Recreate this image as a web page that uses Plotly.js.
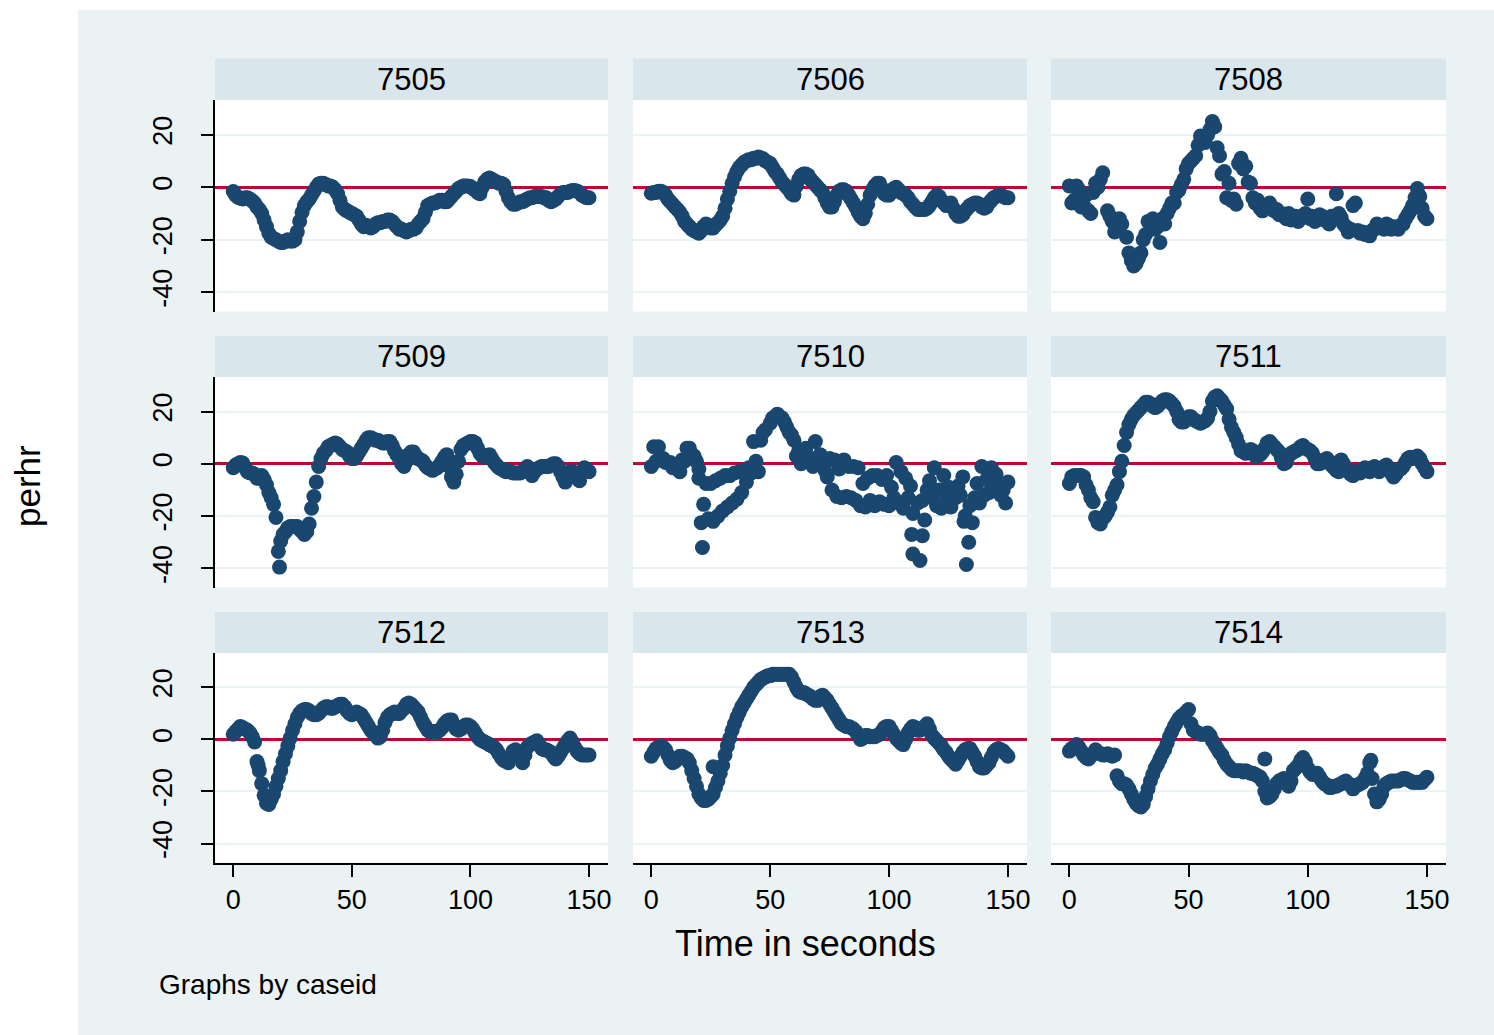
<!DOCTYPE html>
<html><head><meta charset="utf-8">
<script src="https://cdn.plot.ly/plotly-3.0.1.min.js"></script>
<style>html,body{margin:0;padding:0;background:#fff;}#chart{width:1494px;height:1035px;}</style>
</head><body><div id="chart"></div>
<script>
// ---------------- DATA ----------------
const caseIds = ['7505','7506','7508','7509','7510','7511','7512','7513','7514'];
const xTickVals = [0, 50, 100, 150];
const yTickVals = [-40, -20, 0, 20];
const evenSeconds = [0,2,4,6,8,10,12,14,16,18,20,22,24,26,28,30,32,34,36,38,40,42,44,46,48,50,52,54,56,58,60,62,64,66,68,70,72,74,76,78,80,82,84,86,88,90,92,94,96,98,100,102,104,106,108,110,112,114,116,118,120,122,124,126,128,130,132,134,136,138,140,142,144,146,148,150];
const oddSeconds = [1,3,5,7,9,11,13,15,17,19,21,23,25,27,29,31,33,35,37,39,41,43,45,47,49,51,53,55,57,59,61,63,65,67,69,71,73,75,77,79,81,83,85,87,89,91,93,95,97,99,101,103,105,107,109,111,113,115,117,119,121,123,125,127,129,131,133,135,137,139,141,143,145,147,149];

// perhr at even seconds
const perhr7505 = [-1.6,-3.8,-4.5,-4,-5.2,-7.5,-10,-15,-19,-20,
  -21,-20.5,-20.5,-20,-13,-7,-4.5,-1.5,1.2,1.5,
  0.5,0,-2.5,-7.5,-9,-10,-11,-14,-14.5,-15.5,
  -14,-13.5,-13,-12.5,-14,-16,-16.5,-16.5,-16,-14,
  -12,-7,-6,-5.5,-5,-5.5,-3.5,-1.5,0,0.5,
  0.3,-1,-2.5,2,3.5,2.5,1.5,1,-4,-6.5,
  -6,-5.5,-4.5,-4,-3.5,-3.5,-4,-5.5,-4.5,-2.5,
  -2,-1.5,-1.2,-2,-3.5,-4];
// perhr at odd seconds
const perhrOdd7505 = [-3,-4.2,-4,-4.5,-6,-8.5,-12.5,-17.5,-19.5,-20.5,
  -21,-20,-20.5,-17,-9.5,-5.5,-3,0,1.5,1,
  0.5,-1,-5,-8.5,-9.5,-10.5,-12.5,-15,-15,-15,
  -13.5,-13,-12.5,-13,-15,-16,-17,-16,-15.5,-13,
  -9.5,-6.5,-6,-5,-5.5,-4.5,-2.5,-0.5,0.5,0.5,
  -0.5,-2,0,3,3,2,1.5,-1.5,-5.5,-6.5,
  -5.5,-5,-4,-3.5,-3.5,-4,-5,-5,-3.5,-2,
  -2,-1.2,-1.5,-3,-4];

const perhr7506 = [-2.3,-2,-1.5,-3,-5.5,-7.5,-9.5,-13,-15,-16.5,
  -17.5,-15,-14.5,-15.5,-13.5,-11,-4.5,1.5,6,8.5,
  10,10.5,11,11.2,10,9,6,3.5,1,-1,
  -3,3,5,4.5,2,0,-2,-6,-7.5,-3,
  -1,-1.5,-4.5,-7.5,-11,-10,-3,0.5,1.5,-2.5,
  -3,-0.5,-1,-2.5,-4,-6.5,-8.5,-8.5,-8,-5.5,
  -3,-5,-7,-6,-10,-11,-9,-7,-6,-6.5,
  -8,-6,-4,-3,-3.5,-4];
const perhrOdd7506 = [-2,-1.5,-2,-4.5,-6.5,-8.5,-11,-14,-16,-17,
  -16.5,-14,-15.5,-14.5,-12.5,-8,-1.5,4,7.5,9.5,
  10.5,11,11.5,10.8,9.5,7.5,5,2,0,-2.5,
  0.5,4.5,5,3,1,-1,-4,-7.5,-5.5,-1.5,
  -1,-3,-6,-9.5,-12,-6.5,-1,1.5,-0.5,-3,
  -2,0,-2,-3,-5.5,-7.5,-8.5,-8.5,-7,-4,
  -3.5,-6,-6.5,-8,-11,-10.5,-8,-6.5,-6,-7.5,
  -7.5,-5,-3.5,-3,-4];

const perhr7508 = [0.5,-5,-1,-7,-9,-2,0,5.5,-9,-13,
  -15,-14,-19,-28,-29,-25,-18,-14,-16,-21,
  -14,-8,-6,-1,3,9,11,16,18,20,
  25,15,5,-4,-5,-6.5,11,8,1.5,-6,
  -8,-7,-6,-9,-10.5,-11,-10,-12,-13,-11,
  -4.5,-11,-12.5,-11,-13,-11,-2.5,-11.5,-15,-16,
  -6,-17.5,-18,-18.5,-16,-15,-16,-14.5,-15,-16,
  -14,-10.5,-7,-0.5,-8,-12];
const extraSec7508 = [1,3,5,7,9,11,13,17,19,21,25,27,29,31,33,35,37,39,41,43,45,47,49,51,53,55,57,59,61,63,65,67,69,71,73,75,77,79,81,83,85,87,89,91,93,95,97,99,101,103,105,107,109,111,113,115,117,119,121,123,125,127,129,131,133,135,137,139,141,143,145,147,149];
const extraPerhr7508 = [-6,0.5,-7.5,-3,-10,1.5,3,-11,-17,-12,
  -25,-30,-27,-20,-13,-12,-15,-12,-10,-6,
  -2,1,7,10,12,19.5,17,22,23,12,
  6,1.5,-4.5,9,7,2,-4,-5,-9,-8,
  -7.5,-8.5,-10,-12,-12.5,-11,-12,-10,-12,-13,
  -10.5,-12,-14,-12,-10,-14,-17,-7,-16.5,-17,
  -17.5,-16.5,-14,-15.5,-14,-16,-15.5,-14.5,-12,-9,
  -4,-3.5,-11];

const perhr7509 = [-1.5,0,0.3,-3,-3.5,-5.5,-4.5,-8,-13,-20.5,
  -29.5,-26,-24,-24,-25,-27,-23,-12.5,-1,4,
  6.5,7.5,7.5,5.5,4.5,2,3,6,9,10,
  9,8.5,8,8.5,5,2,-1,3.5,4.5,2,
  1,-1.5,-2.5,-1.5,1,3.5,-5,-4,5.5,7.5,
  8.5,8,4,2.5,3.5,0.5,-1.5,-2.5,-3,-3.5,
  -3.5,-3,-1,-4.5,-2,-1,-1,-0.5,0,-3,
  -7,-3,-4,-6.5,-1.5,-3];
const perhrOdd7509 = [-0.5,0.5,-1.5,-3.5,-4,-5.5,-6,-11,-15.5,-33.5,
  -27,-24.5,-24,-24,-26,-26,-17,-7,2,5,
  7,8,6.5,5,3,2,4.5,7.5,10,9.5,
  9,8,8.5,7,3.5,0,1,4.5,3,1.5,
  -0.5,-2,-2,-0.5,2.5,-1,-7,1,7,8,
  8.5,6,3,3,2,-0.5,-2,-3,-3,-3.5,
  -3.5,-2,-2.5,-3,-1.5,-1,-1,0,-1,-5,
  -5,-3,-5.5,-3.5,-2];
const extraSec7509 = [19.5];
const extraPerhr7509 = [-39.5];

const perhr7510 = [-1,1,1.5,0.5,0.5,-1,-3,1,6,3,
  -2,-15.5,-21,-22,-20,-18,-16.5,-15,-13.5,-11,
  -7,-3.5,1,9,13,15.5,18,18,16,12,
  9,5,3,1,-1,0,1.5,-5,-10,-12.5,
  -13,-12.5,-13,-14,-16,-16.5,-14,-16,-14.5,-15.5,
  -16,-13,-15,-17,-13,-19,-15,-14,-10,-13,
  -16,-17,-14,-16.5,-13,-12,-20,-16,-13,-15,
  -12,-11,-9,-8.5,-10,-7];
const extraSec7510 = [1,3,5,9,13,15,17,19,20,21,21.5,23,25,27,29,31,33,35,37,39,41,43,45,47,51,53,55,57,59,61,63,65,67,69,71,73,75,77,79,81,83,85,87,89,91,93,95,97,99,101,103,105,107,109,109.5,110,113,114,115,117,119,121,123,125,127,129,131,131.5,132.5,133.5,135,137,139,141,143,145,147,149];
const extraPerhr7510 = [6.5,6.5,2,-1.5,1.5,6,3.5,1,-5.5,-22.5,
  -32,-7.5,-7.5,-6.5,-5.5,-4.5,-4.5,-3.5,-3,-2.5,
  -1.5,8.5,-3,12,17.5,19,17.5,14,11,3,
  0,6,2,8.5,3.5,-2.5,2,1.5,-2,1.5,
  -1,-1,-1.5,-7.5,-5.5,-4.5,-4.5,-6,-4.5,-9,
  0.5,-3,-5.5,-8.5,-27,-34.5,-37,-27.5,-21.5,-6.5,
  -1.5,-10,-4.5,-9,-11,-8.5,-5,-22,-38.5,-30,
  -22.5,-7.5,-1,-6,-1.5,-4,-12,-15];

const perhr7511 = [-7.5,-4.5,-4.5,-5,-10,-14.5,-22.5,-21,-18.5,-12,
  -8,1,12,17,19.5,21.5,23.5,23,21.5,23,
  24.5,24,22,17,16,18,17,16,16,17.5,
  24,26,24,21,14,10,5,4,5.5,3,
  3.5,6,8.5,6.5,4.5,0,3,4.5,5.5,7,
  5.5,4,0,0.5,2,-0.5,-2.5,1.5,-2,-4,
  -3,-3.5,-1.5,-3,-1,-3,-1,-1.5,-5,-2.5,
  -1,2,2,3,0,-3];
const perhrOdd7511 = [-5,-4.5,-4.5,-8,-13,-20.5,-23,-20,-16.5,-10,
  -3,7,15,18.5,20.5,22.5,23.5,22,22,24,
  24.5,23,20,16,17,18,16.5,15.5,16.5,20,
  25.5,25,22.5,17,12,7.5,4.5,5,5,3,
  4.5,8,7.5,5.5,2,0.5,4,5,6.5,6,
  5,2,0,1.5,1,-1.5,-3,0,-3,-4.5,
  -3,-2.5,-2,-1.5,-2,-2,-0.5,-3.5,-4,-2,
  0.5,2.5,2.5,2,-1.5];

const perhr7512 = [2,4,4.5,3.5,1,-8.5,-17,-24.5,-23,-18,
  -12,-5.5,0.5,6,10,11.5,11,9.5,10,12,
  12.5,12,13,13.5,11,9.5,10.5,9.5,6.5,3.5,
  1.5,1,6.5,9.5,10.5,10,12,14,12.5,10.5,
  6.5,3.5,3,3,4.5,7,7.5,4,4,5.5,
  5,2.5,0,-1,-2,-3,-5.5,-8,-9,-4.5,
  -5,-9,-3,-1.5,-0.5,-3.5,-4,-5,-7.5,-5,
  -2,0.5,-3,-5.5,-6,-6];
const perhrOdd7512 = [3,5,4,2.5,-1,-12,-21.5,-25,-21,-15,
  -8.5,-2.5,3.5,8.5,11,11.5,10,9.5,11,12.5,
  12,12.5,13.5,12.5,10,10,10,8,5,2.5,
  0.5,3.5,8.5,10,10,11,13.5,13.5,11.5,8.5,
  5,3,3,3.5,6,7.5,5.5,3.5,5,5.5,
  4,1,-0.5,-1.5,-2.5,-4,-7,-8.5,-7,-4,
  -7,-6,-2,-1,-2,-4,-4.5,-6.5,-6.5,-3.5,
  -0.5,-1,-4.5,-6,-6];
const extraSec7512 = [10.5];
const extraPerhr7512 = [-10];

const perhr7513 = [-6.5,-3.5,-2.5,-4,-8,-8.5,-6.5,-7,-9,-15,
  -21,-23.5,-23,-21,-16,-10,-2.5,3.5,8.5,12.5,
  15.5,18.5,21,23,24,24.5,25,25,25,25,
  22,18.5,18,17,15.5,15,17,15,12,9,
  6,5,4.5,3,0,1.5,1,1,2,4.5,
  5,2,-0.5,-2,2.5,5,3.5,4,6,1.5,
  -0.5,-2.5,-5,-7.5,-9.5,-6.5,-4,-3.5,-6.5,-10.5,
  -11,-9,-5,-3.5,-4.5,-6.5];
const perhrOdd7513 = [-5,-3,-3,-6,-9,-7.5,-6.5,-7.5,-12,-18,
  -22.5,-23.5,-22,-18.5,-13,-6,0.5,6,10.5,14,
  17,20,22,23.5,24.5,25,25,25,25,24,
  20,18,17.5,16.5,15,16.5,16,13.5,10.5,7.5,
  5.5,5,4,1.5,0.5,1.5,1,1.5,3,5,
  3.5,0.5,-1.5,0,4,4.5,3.5,5,4,0.5,
  -1.5,-4,-6.5,-8.5,-8,-5,-3.5,-5,-8.5,-11,
  -10,-7,-4,-4,-5.5];
const extraSec7513 = [26];
const extraPerhr7513 = [-10.5];

const perhr7514 = [-4.5,-3,-3,-6,-7.5,-5.5,-5,-6,-5.5,-6.5,
  -14,-17,-17.5,-21,-24.5,-26,-22,-16,-11,-7.5,
  -4,1,5,8,9.5,11.5,3.5,2.5,2,2.5,
  -0.5,-3.5,-6,-9.5,-11.5,-12,-12,-12,-13,-13.5,
  -14.5,-20,-22,-19,-16,-15,-18,-12,-10,-7,
  -11,-13.5,-13,-16,-17.5,-18.5,-18,-17,-16,-17.5,
  -18,-17,-15,-9,-21,-23,-18,-16.5,-16,-16,
  -15,-15.5,-16.5,-16.5,-16.5,-14.5];
const perhrOdd7514 = [-3.5,-2,-4.5,-7,-6.5,-4,-5.5,-6,-6,-6,
  -16,-17,-19,-23,-25.5,-25,-19,-13.5,-9.5,-5.5,
  -1.5,3,6.5,9,10.5,6,3,2,2,1.5,
  -2,-5,-8,-10.5,-12,-12,-12.5,-12.5,-13,-14,
  -16,-22.5,-21,-17,-15.5,-17,-16,-11,-8,-8.5,
  -12.5,-13,-14.5,-17,-18.5,-18,-17.5,-16.5,-17,-19,
  -17.5,-16.5,-13,-15,-24,-21,-17,-16,-16,-15.5,
  -15,-16,-16.5,-16.5,-15.5];
const extraSec7514 = [82,126.5];
const extraPerhr7514 = [-7.5,-8];

// ---------------- BUILD ----------------
const panels = [
  {y: perhr7505, yo: perhrOdd7505},
  {y: perhr7506, yo: perhrOdd7506},
  {y: perhr7508, ex: extraSec7508, ey: extraPerhr7508},
  {y: perhr7509, yo: perhrOdd7509, ex: extraSec7509, ey: extraPerhr7509},
  {y: perhr7510, ex: extraSec7510, ey: extraPerhr7510},
  {y: perhr7511, yo: perhrOdd7511},
  {y: perhr7512, yo: perhrOdd7512, ex: extraSec7512, ey: extraPerhr7512},
  {y: perhr7513, yo: perhrOdd7513, ex: extraSec7513, ey: extraPerhr7513},
  {y: perhr7514, yo: perhrOdd7514, ex: extraSec7514, ey: extraPerhr7514}
];

const W = 1494, H = 1035;
const FONT = 'Liberation Sans, Arial, Helvetica, sans-serif';
const NAVY = '#1A476F';
const colPx = [[215, 608], [633, 1027], [1051, 1446]];
const rowPx = [[100, 311.5], [377, 587.5], [653, 862.5]];
const headPx = [[58.5, 100], [336, 377], [612, 653]];

const traces = [];
const layout = {
  width: W, height: H,
  margin: {l: 0, r: 0, t: 0, b: 0, pad: 0},
  paper_bgcolor: '#EAF2F3',
  plot_bgcolor: '#FFFFFF',
  showlegend: false,
  font: {family: FONT, color: '#000'},
  shapes: [
    {type: 'rect', xref: 'paper', yref: 'paper', x0: 0, x1: 78 / W, y0: 0, y1: 1, fillcolor: '#FFFFFF', line: {width: 0}, layer: 'below'},
    {type: 'rect', xref: 'paper', yref: 'paper', x0: 0, x1: 1, y0: 1 - 10 / H, y1: 1, fillcolor: '#FFFFFF', line: {width: 0}, layer: 'below'}
  ],
  annotations: []
};

panels.forEach((p, i) => {
  const r = Math.floor(i / 3), c = i % 3;
  const n = i === 0 ? '' : String(i + 1);
  const xa = 'x' + n, ya = 'y' + n;
  const mk = {size: 15, color: NAVY, line: {width: 0}};
  traces.push({type: 'scatter', mode: 'markers', x: evenSeconds, y: p.y, xaxis: xa, yaxis: ya, marker: mk});
  if (p.yo) traces.push({type: 'scatter', mode: 'markers', x: oddSeconds, y: p.yo, xaxis: xa, yaxis: ya, marker: mk});
  if (p.ex) traces.push({type: 'scatter', mode: 'markers', x: p.ex, y: p.ey, xaxis: xa, yaxis: ya, marker: mk});

  const bottom = r === 2, left = c === 0;
  layout['xaxis' + n] = {
    domain: [colPx[c][0] / W, colPx[c][1] / W], anchor: ya,
    range: [-7.7, 158], showgrid: false, zeroline: false,
    tickmode: 'array', tickvals: xTickVals, ticktext: xTickVals.map(String),
    showticklabels: bottom, ticks: bottom ? 'outside' : '', ticklen: 12, tickwidth: 2, tickcolor: '#000',
    showline: bottom, linecolor: '#000', linewidth: 2,
    tickfont: {family: FONT, size: 27, color: '#000'}, fixedrange: true
  };
  layout['yaxis' + n] = {
    domain: [1 - rowPx[r][1] / H, 1 - rowPx[r][0] / H], anchor: xa,
    range: [-47.3, 33.2], showgrid: true, gridcolor: '#EAF2F3', gridwidth: 2,
    zeroline: true, zerolinecolor: '#C10534', zerolinewidth: 3,
    tickmode: 'array', tickvals: yTickVals, ticktext: yTickVals.map(String),
    showticklabels: left, ticks: left ? 'outside' : '', ticklen: 12, tickwidth: 2, tickcolor: '#000',
    tickangle: -90, ticklabelstandoff: 18,
    showline: left, linecolor: '#000', linewidth: 2,
    tickfont: {family: FONT, size: 27, color: '#000'}, fixedrange: true
  };
  layout.shapes.push({type: 'rect', xref: 'paper', yref: 'paper',
    x0: colPx[c][0] / W, x1: colPx[c][1] / W, y0: 1 - headPx[r][1] / H, y1: 1 - headPx[r][0] / H,
    fillcolor: '#D9E6EB', line: {width: 0}, layer: 'below'});
  layout.annotations.push({text: caseIds[i], xref: 'paper', yref: 'paper',
    x: (colPx[c][0] + colPx[c][1]) / 2 / W, y: 1 - (headPx[r][0] + headPx[r][1]) / 2 / H,
    xanchor: 'center', yanchor: 'middle', showarrow: false, font: {family: FONT, size: 31, color: '#000'}});
});

layout.annotations.push({text: 'Time in seconds', xref: 'paper', yref: 'paper', x: 805 / W, y: 1 - 943 / H,
  xanchor: 'center', yanchor: 'middle', showarrow: false, font: {family: FONT, size: 36, color: '#000'}});
layout.annotations.push({text: 'perhr', xref: 'paper', yref: 'paper', x: 28 / W, y: 1 - 486 / H, textangle: -90,
  xanchor: 'center', yanchor: 'middle', showarrow: false, font: {family: FONT, size: 35, color: '#000'}});
layout.annotations.push({text: 'Graphs by caseid', xref: 'paper', yref: 'paper', x: 157 / W, y: 1 - 984 / H,
  xanchor: 'left', yanchor: 'middle', showarrow: false, font: {family: FONT, size: 28, color: '#000'}});

Plotly.newPlot('chart', traces, layout, {displayModeBar: false, staticPlot: true});
</script>
</body></html>
